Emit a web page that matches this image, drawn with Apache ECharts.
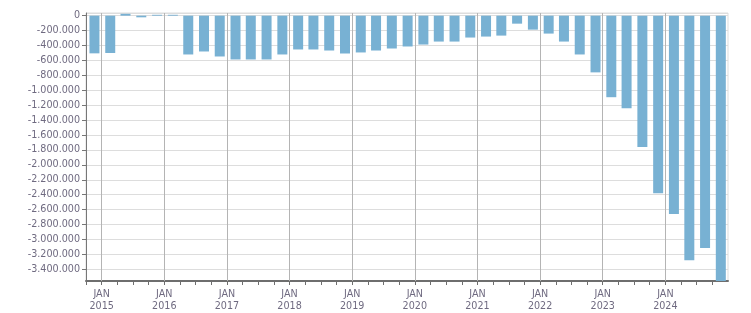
<!DOCTYPE html>
<html>
<head>
<meta charset="utf-8">
<script src="https://cdn.jsdelivr.net/npm/echarts@6/dist/echarts.min.js"></script>
<style>
  html, body { margin: 0; padding: 0; background: #ffffff; }
  #chart { width: 751px; height: 313px; }
</style>
</head>
<body>
<div id="chart"></div>
<script>
// Observation dates (one bar per quarter)
const dates = [
  '2014-11-20',
  '2015-02-20', '2015-05-20', '2015-08-20', '2015-11-20',
  '2016-02-20', '2016-05-20', '2016-08-20', '2016-11-20',
  '2017-02-20', '2017-05-20', '2017-08-20', '2017-11-20',
  '2018-02-20', '2018-05-20', '2018-08-20', '2018-11-20',
  '2019-02-20', '2019-05-20', '2019-08-20', '2019-11-20',
  '2020-02-20', '2020-05-20', '2020-08-20', '2020-11-20',
  '2021-02-20', '2021-05-20', '2021-08-20', '2021-11-20',
  '2022-02-20', '2022-05-20', '2022-08-20', '2022-11-20',
  '2023-02-20', '2023-05-20', '2023-08-20', '2023-11-20',
  '2024-02-20', '2024-05-20', '2024-08-20', '2024-11-20'
];
const values = [
  -505000,
  -500000, 25000, -22000, 12000,
  12000, -520000, -480000, -547000,
  -587000, -587000, -587000, -520000,
  -453000, -453000, -467000, -507000,
  -493000, -467000, -440000, -413000,
  -387000, -347000, -347000, -293000,
  -280000, -267000, -107000, -187000,
  -240000, -347000, -520000, -760000,
  -1093000, -1240000, -1760000, -2382000,
  -2660000, -3278000, -3116000, -3557000
];
// Year tick labels (January of each year)
const yearTicks = [2015, 2016, 2017, 2018, 2019, 2020, 2021, 2022, 2023, 2024];
const monthLabel = 'JAN';

function decimalYear(s) {
  const p = s.split('-').map(Number);
  const y = p[0];
  const t = Date.UTC(y, p[1] - 1, p[2]);
  const a = Date.UTC(y, 0, 1), b = Date.UTC(y + 1, 0, 1);
  return y + (t - a) / (b - a);
}
function fmtDE(v) {
  const s = String(Math.round(Math.abs(v))).replace(/\B(?=(\d{3})+(?!\d))/g, '.');
  return (v < 0 ? '-' : '') + s;
}

const seriesData = dates.map((d, i) => [decimalYear(d), values[i]]);

const labelColor = '#6f6a80';
const font = 'DejaVu Sans';

const chart = echarts.init(document.getElementById('chart'), null, { renderer: 'canvas' });
chart.setOption({
  animation: false,
  backgroundColor: '#ffffff',
  grid: {
    left: 86, right: 23, top: 13, bottom: 32,
    show: true, borderColor: '#dddddd', borderWidth: 1, backgroundColor: 'transparent'
  },
  xAxis: {
    type: 'value',
    min: 2014.75,
    max: 2025,
    interval: 0.25,
    axisLine: { show: true, onZero: false, lineStyle: { color: '#6e6e6e', width: 2 } },
    axisTick: { show: true, length: 4, lineStyle: { color: '#6e6e6e', width: 1 } },
    splitLine: { show: false },
    axisLabel: {
      show: true,
      margin: 8,
      color: labelColor,
      fontFamily: font,
      fontSize: 9.6,
      lineHeight: 11.5,
      showMinLabel: true,
      showMaxLabel: false,
      formatter: function (v) {
        const y = Math.round(v);
        if (Math.abs(v - y) < 1e-6 && yearTicks.indexOf(y) >= 0) {
          return monthLabel + '\n' + y;
        }
        return '';
      }
    }
  },
  yAxis: {
    type: 'value',
    min: -3557000,
    max: 36000,
    splitNumber: 18,
    axisLine: { show: true, onZero: false, lineStyle: { color: '#777777', width: 1 } },
    axisTick: { show: true, length: 4, lineStyle: { color: '#777777', width: 1 } },
    splitLine: { show: true, lineStyle: { color: '#dddddd', width: 1 } },
    axisLabel: {
      margin: 6,
      color: labelColor,
      fontFamily: font,
      fontSize: 9.6,
      showMinLabel: false,
      showMaxLabel: false,
      formatter: fmtDE
    }
  },
  series: [{
    type: 'bar',
    barWidth: 10,
    itemStyle: { color: '#78b1d3' },
    data: seriesData,
    markLine: {
      silent: true,
      symbol: ['none', 'none'],
      label: { show: false },
      lineStyle: { type: 'solid', color: '#b4b4b4', width: 1 },
      emphasis: { disabled: true },
      data: yearTicks.map(y => ({ xAxis: y }))
    }
  }]
});
</script>
</body>
</html>
